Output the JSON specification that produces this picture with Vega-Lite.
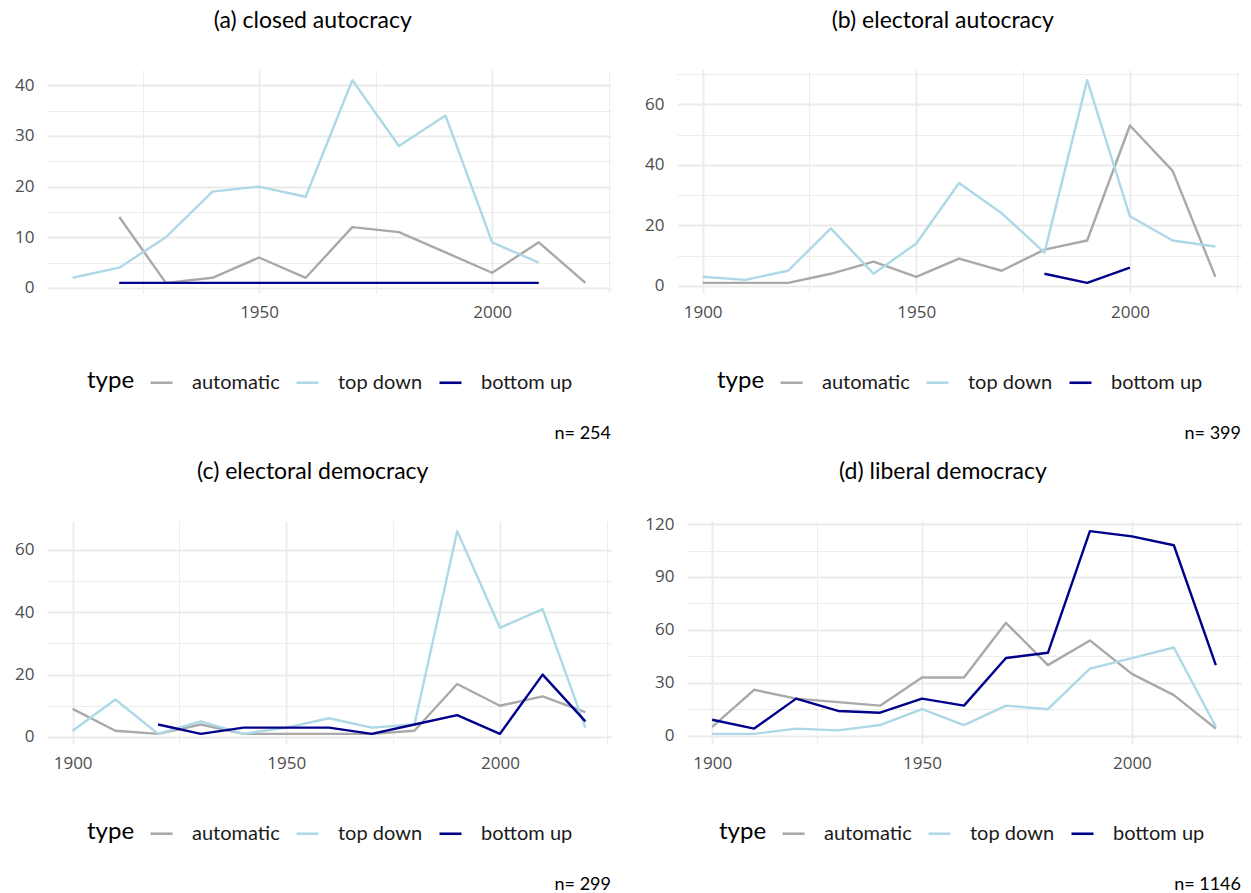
{
  "$schema": "https://vega.github.io/schema/vega-lite/v6.json",
  "background": "white",
  "padding": {"left": 14, "top": 10, "right": 5, "bottom": 0},
  "datasets": {
    "closed": [
      {"year": 1920, "type": "automatic", "n": 14}, {"year": 1930, "type": "automatic", "n": 1}, {"year": 1940, "type": "automatic", "n": 2}, {"year": 1950, "type": "automatic", "n": 6}, {"year": 1960, "type": "automatic", "n": 2}, {"year": 1970, "type": "automatic", "n": 12}, {"year": 1980, "type": "automatic", "n": 11}, {"year": 1990, "type": "automatic", "n": 7}, {"year": 2000, "type": "automatic", "n": 3}, {"year": 2010, "type": "automatic", "n": 9}, {"year": 2020, "type": "automatic", "n": 1},
      {"year": 1910, "type": "top down", "n": 2}, {"year": 1920, "type": "top down", "n": 4}, {"year": 1930, "type": "top down", "n": 10}, {"year": 1940, "type": "top down", "n": 19}, {"year": 1950, "type": "top down", "n": 20}, {"year": 1960, "type": "top down", "n": 18}, {"year": 1970, "type": "top down", "n": 41}, {"year": 1980, "type": "top down", "n": 28}, {"year": 1990, "type": "top down", "n": 34}, {"year": 2000, "type": "top down", "n": 9}, {"year": 2010, "type": "top down", "n": 5},
      {"year": 1920, "type": "bottom up", "n": 1}, {"year": 1930, "type": "bottom up", "n": 1}, {"year": 1940, "type": "bottom up", "n": 1}, {"year": 1950, "type": "bottom up", "n": 1}, {"year": 1960, "type": "bottom up", "n": 1}, {"year": 1970, "type": "bottom up", "n": 1}, {"year": 1980, "type": "bottom up", "n": 1}, {"year": 1990, "type": "bottom up", "n": 1}, {"year": 2000, "type": "bottom up", "n": 1}, {"year": 2010, "type": "bottom up", "n": 1}
    ],
    "electoral_autocracy": [
      {"year": 1900, "type": "automatic", "n": 1}, {"year": 1910, "type": "automatic", "n": 1}, {"year": 1920, "type": "automatic", "n": 1}, {"year": 1930, "type": "automatic", "n": 4}, {"year": 1940, "type": "automatic", "n": 8}, {"year": 1950, "type": "automatic", "n": 3}, {"year": 1960, "type": "automatic", "n": 9}, {"year": 1970, "type": "automatic", "n": 5}, {"year": 1980, "type": "automatic", "n": 12}, {"year": 1990, "type": "automatic", "n": 15}, {"year": 2000, "type": "automatic", "n": 53}, {"year": 2010, "type": "automatic", "n": 38}, {"year": 2020, "type": "automatic", "n": 3},
      {"year": 1900, "type": "top down", "n": 3}, {"year": 1910, "type": "top down", "n": 2}, {"year": 1920, "type": "top down", "n": 5}, {"year": 1930, "type": "top down", "n": 19}, {"year": 1940, "type": "top down", "n": 4}, {"year": 1950, "type": "top down", "n": 14}, {"year": 1960, "type": "top down", "n": 34}, {"year": 1970, "type": "top down", "n": 24}, {"year": 1980, "type": "top down", "n": 11}, {"year": 1990, "type": "top down", "n": 68}, {"year": 2000, "type": "top down", "n": 23}, {"year": 2010, "type": "top down", "n": 15}, {"year": 2020, "type": "top down", "n": 13},
      {"year": 1980, "type": "bottom up", "n": 4}, {"year": 1990, "type": "bottom up", "n": 1}, {"year": 2000, "type": "bottom up", "n": 6}
    ],
    "electoral_democracy": [
      {"year": 1900, "type": "automatic", "n": 9}, {"year": 1910, "type": "automatic", "n": 2}, {"year": 1920, "type": "automatic", "n": 1}, {"year": 1930, "type": "automatic", "n": 4}, {"year": 1940, "type": "automatic", "n": 1}, {"year": 1950, "type": "automatic", "n": 1}, {"year": 1960, "type": "automatic", "n": 1}, {"year": 1970, "type": "automatic", "n": 1}, {"year": 1980, "type": "automatic", "n": 2}, {"year": 1990, "type": "automatic", "n": 17}, {"year": 2000, "type": "automatic", "n": 10}, {"year": 2010, "type": "automatic", "n": 13}, {"year": 2020, "type": "automatic", "n": 8},
      {"year": 1900, "type": "top down", "n": 2}, {"year": 1910, "type": "top down", "n": 12}, {"year": 1920, "type": "top down", "n": 1}, {"year": 1930, "type": "top down", "n": 5}, {"year": 1940, "type": "top down", "n": 1}, {"year": 1950, "type": "top down", "n": 3}, {"year": 1960, "type": "top down", "n": 6}, {"year": 1970, "type": "top down", "n": 3}, {"year": 1980, "type": "top down", "n": 4}, {"year": 1990, "type": "top down", "n": 66}, {"year": 2000, "type": "top down", "n": 35}, {"year": 2010, "type": "top down", "n": 41}, {"year": 2020, "type": "top down", "n": 3},
      {"year": 1920, "type": "bottom up", "n": 4}, {"year": 1930, "type": "bottom up", "n": 1}, {"year": 1940, "type": "bottom up", "n": 3}, {"year": 1950, "type": "bottom up", "n": 3}, {"year": 1960, "type": "bottom up", "n": 3}, {"year": 1970, "type": "bottom up", "n": 1}, {"year": 1980, "type": "bottom up", "n": 4}, {"year": 1990, "type": "bottom up", "n": 7}, {"year": 2000, "type": "bottom up", "n": 1}, {"year": 2010, "type": "bottom up", "n": 20}, {"year": 2020, "type": "bottom up", "n": 5}
    ],
    "liberal_democracy": [
      {"year": 1900, "type": "automatic", "n": 5}, {"year": 1910, "type": "automatic", "n": 26}, {"year": 1920, "type": "automatic", "n": 21}, {"year": 1930, "type": "automatic", "n": 19}, {"year": 1940, "type": "automatic", "n": 17}, {"year": 1950, "type": "automatic", "n": 33}, {"year": 1960, "type": "automatic", "n": 33}, {"year": 1970, "type": "automatic", "n": 64}, {"year": 1980, "type": "automatic", "n": 40}, {"year": 1990, "type": "automatic", "n": 54}, {"year": 2000, "type": "automatic", "n": 35}, {"year": 2010, "type": "automatic", "n": 23}, {"year": 2020, "type": "automatic", "n": 4},
      {"year": 1900, "type": "top down", "n": 1}, {"year": 1910, "type": "top down", "n": 1}, {"year": 1920, "type": "top down", "n": 4}, {"year": 1930, "type": "top down", "n": 3}, {"year": 1940, "type": "top down", "n": 6}, {"year": 1950, "type": "top down", "n": 15}, {"year": 1960, "type": "top down", "n": 6}, {"year": 1970, "type": "top down", "n": 17}, {"year": 1980, "type": "top down", "n": 15}, {"year": 1990, "type": "top down", "n": 38}, {"year": 2000, "type": "top down", "n": 44}, {"year": 2010, "type": "top down", "n": 50}, {"year": 2020, "type": "top down", "n": 5},
      {"year": 1900, "type": "bottom up", "n": 9}, {"year": 1910, "type": "bottom up", "n": 4}, {"year": 1920, "type": "bottom up", "n": 21}, {"year": 1930, "type": "bottom up", "n": 14}, {"year": 1940, "type": "bottom up", "n": 13}, {"year": 1950, "type": "bottom up", "n": 21}, {"year": 1960, "type": "bottom up", "n": 17}, {"year": 1970, "type": "bottom up", "n": 44}, {"year": 1980, "type": "bottom up", "n": 47}, {"year": 1990, "type": "bottom up", "n": 116}, {"year": 2000, "type": "bottom up", "n": 113}, {"year": 2010, "type": "bottom up", "n": 108}, {"year": 2020, "type": "bottom up", "n": 40}
    ]
  },
  "columns": 2,
  "align": {"row": "all", "column": "none"},
  "spacing": {"row": 17, "column": 33},
  "resolve": {"legend": {"color": "independent"}},
  "concat": [
    {
      "title": {"text": "n= 254", "orient": "bottom", "anchor": "end", "frame": "bounds", "fontSize": 18, "offset": 32},
      "resolve": {"legend": {"color": "independent"}},
      "vconcat": [{
        "title": {"text": "(a) closed autocracy", "anchor": "middle", "frame": "bounds", "offset": 37},
        "width": 564, "height": 223,
        "data": {"name": "closed"},
        "mark": {"type": "line", "strokeWidth": 2.4, "strokeJoin": "round"},
        "encoding": {
          "x": {"field": "year", "type": "quantitative",
                "scale": {"domain": [1904.5, 2025.5], "nice": false, "zero": false},
                "axis": {"values": [1925, 1950, 1975, 2000, 2025], "format": "d",
                         "labelExpr": "datum.value % 50 === 0 ? datum.label : ''",
                         "gridWidth": {"condition": {"test": "datum.value % 50 === 0", "value": 1.8}, "value": 0.9}}},
          "y": {"field": "n", "type": "quantitative",
                "scale": {"domain": [-1, 43], "nice": false, "zero": false},
                "axis": {"values": [0, 5, 10, 15, 20, 25, 30, 35, 40],
                         "labelExpr": "datum.value % 10 === 0 ? datum.label : ''",
                         "labelFontSize": {"condition": {"test": "datum.value % 10 !== 0", "value": 0}, "value": 17},
                         "gridWidth": {"condition": {"test": "datum.value % 10 === 0", "value": 1.8}, "value": 0.9}}},
          "color": {"field": "type", "type": "nominal",
                    "scale": {"domain": ["automatic", "top down", "bottom up"], "range": ["#A9A9A9", "#ADD8E6", "#00008B"]},
                    "legend": {"orient": "none", "legendX": 40, "legendY": 300}}
        }
      }]
    },
    {
      "title": {"text": "n= 399", "orient": "bottom", "anchor": "end", "frame": "bounds", "fontSize": 18, "offset": 32},
      "resolve": {"legend": {"color": "independent"}},
      "vconcat": [{
        "title": {"text": "(b) electoral autocracy", "anchor": "middle", "frame": "bounds", "offset": 37},
        "width": 564, "height": 223,
        "data": {"name": "electoral_autocracy"},
        "mark": {"type": "line", "strokeWidth": 2.4, "strokeJoin": "round"},
        "encoding": {
          "x": {"field": "year", "type": "quantitative",
                "scale": {"domain": [1894, 2026], "nice": false, "zero": false},
                "axis": {"values": [1900, 1925, 1950, 1975, 2000, 2025], "format": "d",
                         "labelExpr": "datum.value % 50 === 0 ? datum.label : ''",
                         "gridWidth": {"condition": {"test": "datum.value % 50 === 0", "value": 1.8}, "value": 0.9}}},
          "y": {"field": "n", "type": "quantitative",
                "scale": {"domain": [-2.35, 71.35], "nice": false, "zero": false},
                "axis": {"values": [0, 10, 20, 30, 40, 50, 60, 70],
                         "labelExpr": "datum.value % 20 === 0 ? datum.label : ''",
                         "labelFontSize": {"condition": {"test": "datum.value % 20 !== 0", "value": 0}, "value": 17},
                         "gridWidth": {"condition": {"test": "datum.value % 20 === 0", "value": 1.8}, "value": 0.9}}},
          "color": {"field": "type", "type": "nominal",
                    "scale": {"domain": ["automatic", "top down", "bottom up"], "range": ["#A9A9A9", "#ADD8E6", "#00008B"]},
                    "legend": {"orient": "none", "legendX": 40, "legendY": 300}}
        }
      }]
    },
    {
      "title": {"text": "n= 299", "orient": "bottom", "anchor": "end", "frame": "bounds", "fontSize": 18, "offset": 32},
      "resolve": {"legend": {"color": "independent"}},
      "vconcat": [{
        "title": {"text": "(c) electoral democracy", "anchor": "middle", "frame": "bounds", "offset": 37},
        "width": 564, "height": 223,
        "data": {"name": "electoral_democracy"},
        "mark": {"type": "line", "strokeWidth": 2.4, "strokeJoin": "round"},
        "encoding": {
          "x": {"field": "year", "type": "quantitative",
                "scale": {"domain": [1894, 2026], "nice": false, "zero": false},
                "axis": {"values": [1900, 1925, 1950, 1975, 2000, 2025], "format": "d",
                         "labelExpr": "datum.value % 50 === 0 ? datum.label : ''",
                         "gridWidth": {"condition": {"test": "datum.value % 50 === 0", "value": 1.8}, "value": 0.9}}},
          "y": {"field": "n", "type": "quantitative",
                "scale": {"domain": [-2.25, 69.25], "nice": false, "zero": false},
                "axis": {"values": [0, 10, 20, 30, 40, 50, 60],
                         "labelExpr": "datum.value % 20 === 0 ? datum.label : ''",
                         "labelFontSize": {"condition": {"test": "datum.value % 20 !== 0", "value": 0}, "value": 17},
                         "gridWidth": {"condition": {"test": "datum.value % 20 === 0", "value": 1.8}, "value": 0.9}}},
          "color": {"field": "type", "type": "nominal",
                    "scale": {"domain": ["automatic", "top down", "bottom up"], "range": ["#A9A9A9", "#ADD8E6", "#00008B"]},
                    "legend": {"orient": "none", "legendX": 40, "legendY": 300}}
        }
      }]
    },
    {
      "title": {"text": "n= 1146", "orient": "bottom", "anchor": "end", "frame": "bounds", "fontSize": 18, "offset": 32},
      "resolve": {"legend": {"color": "independent"}},
      "vconcat": [{
        "title": {"text": "(d) liberal democracy", "anchor": "middle", "frame": "bounds", "offset": 31.5},
        "width": 554, "height": 223,
        "data": {"name": "liberal_democracy"},
        "mark": {"type": "line", "strokeWidth": 2.4, "strokeJoin": "round"},
        "encoding": {
          "x": {"field": "year", "type": "quantitative",
                "scale": {"domain": [1894, 2026], "nice": false, "zero": false},
                "axis": {"values": [1900, 1925, 1950, 1975, 2000, 2025], "format": "d",
                         "labelExpr": "datum.value % 50 === 0 ? datum.label : ''",
                         "gridWidth": {"condition": {"test": "datum.value % 50 === 0", "value": 1.8}, "value": 0.9}}},
          "y": {"field": "n", "type": "quantitative",
                "scale": {"domain": [-4.75, 121.75], "nice": false, "zero": false},
                "axis": {"values": [0, 15, 30, 45, 60, 75, 90, 105, 120],
                         "labelExpr": "datum.value % 30 === 0 ? datum.label : ''",
                         "labelFontSize": {"condition": {"test": "datum.value % 30 !== 0", "value": 0}, "value": 17},
                         "gridWidth": {"condition": {"test": "datum.value % 30 === 0", "value": 1.8}, "value": 0.9}}},
          "color": {"field": "type", "type": "nominal",
                    "scale": {"domain": ["automatic", "top down", "bottom up"], "range": ["#A9A9A9", "#ADD8E6", "#00008B"]},
                    "legend": {"orient": "none", "legendX": 32, "legendY": 300}}
        }
      }]
    }
  ],
  "config": {
    "font": "Lato",
    "view": {"stroke": null},
    "axis": {
      "title": null, "domain": false, "ticks": false,
      "labelFont": "Open Sans", "labelFontSize": 17, "labelColor": "#4D4D4D",
      "gridColor": "#EBEBEB", "labelOverlap": false, "labelFlush": false
    },
    "axisX": {"labelPadding": 11},
    "axisY": {"labelPadding": 13},
    "title": {"font": "Lato", "fontSize": 23, "fontWeight": "normal", "color": "#000000"},
    "legend": {
      "direction": "horizontal",
      "titleOrient": "left", "titleFont": "Lato", "titleFontSize": 24, "titleFontWeight": "normal",
      "titleColor": "#000000", "titlePadding": 14,
      "labelFont": "Lato", "labelFontSize": 20, "labelColor": "#1A1A1A", "labelOffset": 18,
      "symbolType": "stroke", "symbolSize": 484, "symbolStrokeWidth": 2.6, "columnPadding": 11, "padding": 0
    }
  }
}
